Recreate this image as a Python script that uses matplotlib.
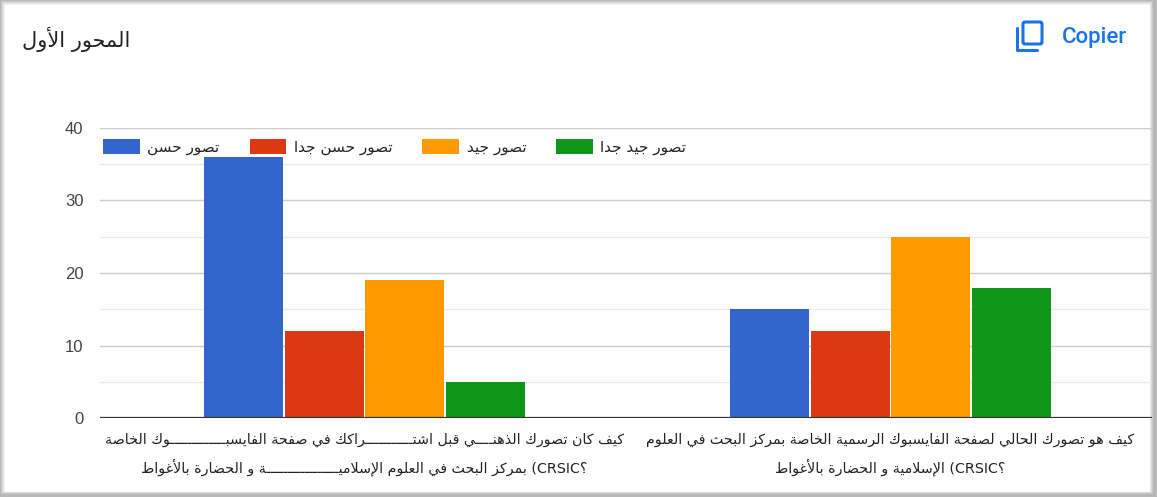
import matplotlib
matplotlib.use('Agg')
import matplotlib.pyplot as plt
from matplotlib.patches import Rectangle, FancyBboxPatch
from matplotlib.lines import Line2D
import numpy as np

# ---------------- data ----------------
title = "المحور الأول"
copy_label = "Copier"
series_names = ["تصور حسن", "تصور حسن جدا", "تصور جيد", "تصور جيد جدا"]
category_lines = [
    ["كيف كان تصورك الذهنــــي قبل اشتـــــــــــراكك في صفحة الفايسبـــــــــــــوك الخاصة",
     "بمركز البحث في العلوم الإسلاميـــــــــــــــــة و الحضارة بالأغواط"],
    ["كيف هو تصورك الحالي لصفحة الفايسبوك الرسمية الخاصة بمركز البحث في العلوم",
     "الإسلامية و الحضارة بالأغواط"],
]
category_suffix = " (CRSIC؟"
tasawwur_hasan = [36, 15]
tasawwur_hasan_jiddan = [12, 12]
tasawwur_jayyid = [19, 25]
tasawwur_jayyid_jiddan = [5, 18]
series_values = [tasawwur_hasan, tasawwur_hasan_jiddan, tasawwur_jayyid, tasawwur_jayyid_jiddan]
colors = ['#3366cc', '#dc3912', '#ff9900', '#109618']
yticks = [0, 10, 20, 30, 40]

# ---------------- minimal Arabic shaping (presentation forms) ----------------
_LET = "ءآأؤإئابةتثجحخدذرزسشصضطظعغفقكلمنهوىي"
_NF = [1, 2, 2, 2, 2, 4, 2, 4, 2, 4, 4, 4, 4, 4, 2, 2, 2, 2, 4, 4, 4, 4, 4, 4,
       4, 4, 4, 4, 4, 4, 4, 4, 4, 2, 2, 4]
_FORMS = {}
_b = 0xFE80
for _c, _n in zip(_LET, _NF):
    _FORMS[_c] = (_b, _n)
    _b += _n
_TATWEEL = 'ـ'
_LAMALEF = {'آ': 0xFEF5, 'أ': 0xFEF7, 'إ': 0xFEF9, 'ا': 0xFEFB}


def _dual(ch):
    return ch == _TATWEEL or (ch in _FORMS and _FORMS[ch][1] == 4)


def _joinable(ch):
    return ch == _TATWEEL or (ch in _FORMS and _FORMS[ch][1] >= 2)


def shape(s):
    res = []
    n = len(s)
    i = 0
    while i < n:
        c = s[i]
        prev = s[i - 1] if i > 0 else None
        jp = prev is not None and _dual(prev)
        if c == 'ل' and i + 1 < n and s[i + 1] in _LAMALEF:
            res.append(chr(_LAMALEF[s[i + 1]] + (1 if jp else 0)))
            i += 2
            continue
        if c in _FORMS:
            base, nf = _FORMS[c]
            nxt = s[i + 1] if i + 1 < n else None
            jn = nf == 4 and nxt is not None and _joinable(nxt)
            if nf == 1:
                off = 0
            elif nf == 2:
                off = 1 if jp else 0
            else:
                off = 3 if (jp and jn) else 2 if jn else 1 if jp else 0
            res.append(chr(base + off))
        else:
            res.append(c)
        i += 1
    return ''.join(res)


def visual(s):
    return shape(s)[::-1]


AR_FONT = 'DejaVu Sans'

# ---------------- figure ----------------
W, H = 1157, 497
fig = plt.figure(figsize=(W / 100, H / 100), dpi=100)
fig.patch.set_facecolor('#b8b8b8')

bg = fig.add_axes([0, 0, 1, 1], zorder=0)
bg.set_xlim(0, W)
bg.set_ylim(H, 0)
bg.axis('off')
for k, col in enumerate(['#c8c8c8', '#d8d8d8', '#e6e6e6', '#f2f2f2']):
    bg.add_patch(Rectangle((1 + k, 1 + k), W - 2 - 2 * k - 3, H - 2 - 2 * k - 2,
                           facecolor=col, edgecolor='none'))
bg.add_patch(Rectangle((5, 5), 1145, 487, facecolor='white', edgecolor='none'))

# title
bg.text(22, 40, visual(title), fontsize=15, family=AR_FONT, color='#222222',
        ha='left', va='center')
# copy icon + label
icol = '#1a73e8'
bg.add_patch(FancyBboxPatch((1023, 22), 19, 22, boxstyle='round,pad=0,rounding_size=2',
                            fill=False, edgecolor=icol, linewidth=2.2))
bg.add_line(Line2D([1017, 1017, 1037], [28, 50, 50], color=icol, linewidth=2.2,
                   solid_capstyle='round', solid_joinstyle='round'))
bg.text(1062, 37, copy_label, fontsize=16, family='Roboto', color=icol,
        ha='left', va='center', fontweight='medium')

# main axes
ax = fig.add_axes([100 / W, 1 - 418 / H, 1052 / W, 290 / H], zorder=1)
ax.set_facecolor('none')

x = np.arange(len(category_lines))
bw = 0.150
step = 0.153
for k, (vals, col, name) in enumerate(zip(series_values, colors, series_names)):
    ax.bar(x + (k - 1.5) * step, vals, width=bw, color=col, label=visual(name),
           zorder=3, edgecolor='none')

ax.set_xlim(-0.503, 1.497)
ax.set_ylim(0, 40)
ax.set_yticks(yticks)
ax.set_yticks([5, 15, 25, 35], minor=True)
ax.grid(axis='y', which='major', color='#cccccc', linewidth=1, zorder=0)
ax.grid(axis='y', which='minor', color='#ebebeb', linewidth=1, zorder=0)
ax.axhline(0, color='#333333', linewidth=1.6, zorder=4)
for sp in ax.spines.values():
    sp.set_visible(False)
ax.tick_params(axis='y', which='both', length=0, pad=12, labelsize=12, labelcolor='#444444')
ax.tick_params(axis='x', length=0, pad=11)
for t in ax.get_yticklabels():
    t.set_family('Liberation Sans')

labels = [visual(l1) + "\n" + visual(l2) + category_suffix for l1, l2 in category_lines]
ax.set_xticks(x)
ax.set_xticklabels(labels, fontsize=10.3, family=AR_FONT, color='#222222', linespacing=1.75)

leg = ax.legend(loc='center left', bbox_to_anchor=(0.003, (418 - 147) / 290), ncol=4,
                frameon=False, handlelength=2.4, handleheight=1.15,
                handletextpad=0.5, columnspacing=1.95, borderpad=0, borderaxespad=0,
                prop={'family': AR_FONT, 'size': 11})
for t in leg.get_texts():
    t.set_color('#222222')

fig.savefig('out.png', dpi=100, facecolor=fig.get_facecolor())
